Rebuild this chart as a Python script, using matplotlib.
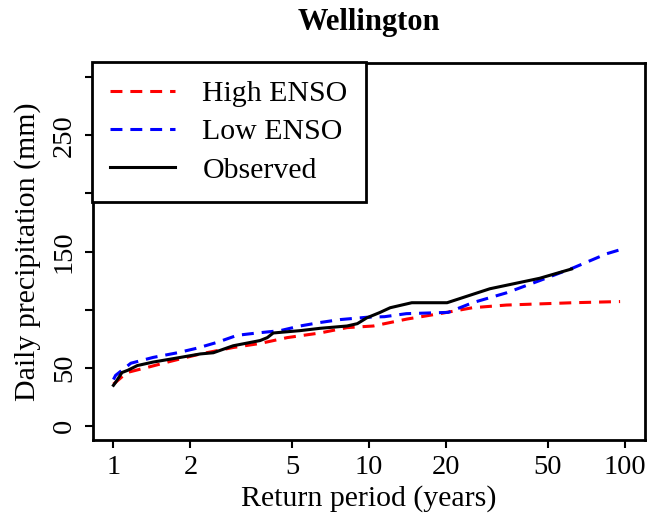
import matplotlib
matplotlib.use("Agg")
import matplotlib.pyplot as plt

plt.rcParams["font.family"] = ["Liberation Serif", "DejaVu Serif"]

# Return period (years) and daily precipitation (mm)
HIGH_X = [1.0, 1.13, 1.39, 1.67, 2.19, 2.94, 3.75, 4.78, 6.43, 8.2, 10.4,
          14.1, 18.9, 25.4, 34.5, 46.5, 62.9, 96.0]
HIGH_Y = [36.0, 46, 51, 55.6, 62, 67.5, 71, 76, 80, 84.6, 86,
          92, 96.6, 101.7, 104, 105, 106, 107]

LOW_X = [1.0, 1.02, 1.17, 1.43, 1.78, 2.13, 2.55, 3.05, 3.65, 4.49, 5.37,
         6.43, 7.7, 9.8, 11.5, 14.0, 20.4, 25.4, 34.5, 46.5, 63.0, 84.8, 101.0]
LOW_Y = [40.0, 43.6, 54, 59, 63, 67, 72, 78, 80, 82, 86,
         89, 91.5, 93.5, 94, 96.6, 97.7, 106, 114.5, 125, 136, 148, 153]

OBS_X = [1.0, 1.02, 1.08, 1.14, 1.24, 1.43, 1.72, 2.19, 2.46, 2.94, 3.75,
         4.0, 4.22, 5.37, 6.43, 8.2, 9.0, 9.8, 11.0, 12.1, 14.7, 20.2,
         29.7, 46.5, 62.0]
OBS_Y = [35.0, 37.6, 46, 48, 52, 55, 58, 62, 63, 69, 73.5,
         76, 80, 82, 84, 86, 88, 93, 97.5, 101.7, 106, 106,
         118, 127, 135]

X_TICKS = [1, 2, 5, 10, 20, 50, 100]
Y_TICKS = [0, 50, 100, 150, 200, 250, 300]
Y_TICK_LABELS = ["0", "50", "", "150", "", "250", ""]

fig = plt.figure(figsize=(6.48, 5.2), dpi=100)
ax = fig.add_axes([0.1435, 0.1538, 0.852, 0.725])

dash = (0, (3.9, 2.6))
ax.plot(HIGH_X, HIGH_Y, color="#FF0000", lw=2.2, ls=dash, label="High ENSO")
ax.plot(LOW_X, LOW_Y, color="#0000FF", lw=2.2, ls=dash, label="Low ENSO")
ax.plot(OBS_X, OBS_Y, color="black", lw=2.2, label="Observed")

ax.set_xscale("log")
ax.set_xlim(10 ** -0.08, 10 ** 2.08)
ax.set_ylim(-12, 312)
ax.set_xticks(X_TICKS)
ax.set_xticklabels([str(t) for t in X_TICKS])
ax.minorticks_off()
ax.set_yticks(Y_TICKS)
ax.set_yticklabels(Y_TICK_LABELS, rotation=90, va="center")
ax.tick_params(direction="out", length=5.5, width=1.5, labelsize=20.5)
ax.tick_params(axis="x", pad=5)
ax.tick_params(axis="y", pad=6)

for s in ax.spines.values():
    s.set_linewidth(2)

ax.set_xlabel("Return period (years)", fontsize=21.5, labelpad=4)
ax.set_ylabel("Daily precipitation (mm)", fontsize=21.5, labelpad=8)
ax.set_title("Wellington", fontsize=22, fontweight="bold", pad=24)

leg = ax.legend(loc="upper left", bbox_to_anchor=(-0.002, 1.002), fontsize=21.5,
                frameon=True, fancybox=False, handlelength=2.2, handletextpad=0.9,
                borderpad=0.6, labelspacing=0.38, borderaxespad=0)
leg.get_frame().set_edgecolor("black")
leg.get_frame().set_linewidth(2)
leg.get_frame().set_alpha(1)

fig.savefig("out.png", dpi=100)
